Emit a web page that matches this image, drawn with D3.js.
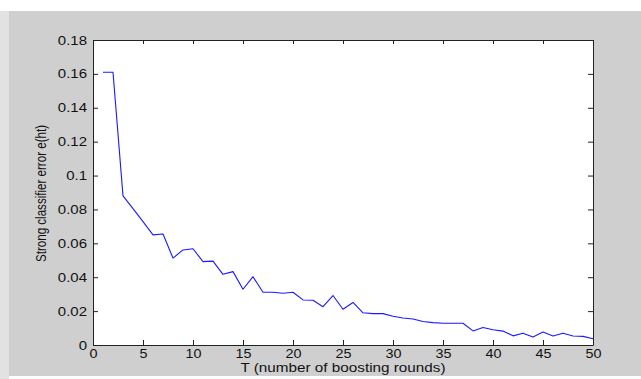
<!DOCTYPE html>
<html>
<head>
<meta charset="utf-8">
<script src="https://cdnjs.cloudflare.com/ajax/libs/d3/7.8.5/d3.min.js"></script>
<style>
  body { margin: 0; background: #fff; }
  svg text { font-family: "Liberation Sans", Arial, sans-serif; fill: #111; }
</style>
</head>
<body>
<div id="chart"></div>
<script>
// boosting rounds T and the strong classifier error
var rounds = d3.range(1, 51);
var errors = [0.161, 0.161, 0.088, 0.0805, 0.0728, 0.065, 0.0655, 0.0513, 0.0561, 0.0568,
              0.0492, 0.0495, 0.0417, 0.0433, 0.0329, 0.0403, 0.0311, 0.0311, 0.0305, 0.0311,
              0.0266, 0.0264, 0.0226, 0.0292, 0.0211, 0.0251, 0.019, 0.0185, 0.0185, 0.017,
              0.0159, 0.0153, 0.0139, 0.0132, 0.0128, 0.0128, 0.0128, 0.0083, 0.0103, 0.009,
              0.0082, 0.0054, 0.0069, 0.0047, 0.0077, 0.0053, 0.0069, 0.0053, 0.0051, 0.0037];
var xTicks = [0, 5, 10, 15, 20, 25, 30, 35, 40, 45, 50];
var yTicks = [0, 0.02, 0.04, 0.06, 0.08, 0.1, 0.12, 0.14, 0.16, 0.18];
var xLabel = "T (number of boosting rounds)";
var yLabel = "Strong classifier error e(ht)";

var W = 641, H = 379;
var margin = {left: 93, right: 48, top: 40, bottom: 34};
var width = W - margin.left - margin.right,
    height = H - margin.top - margin.bottom;
var stretch = 1.2; // source screenshot is a bit wider than tall

var svg = d3.select("#chart").append("svg")
    .attr("width", W)
    .attr("height", H);

// figure background
svg.append("rect").attr("x", 0).attr("y", 0).attr("width", W).attr("height", H).attr("fill", "#ffffff");
svg.append("rect").attr("x", 0).attr("y", 11).attr("width", 9).attr("height", 368).attr("fill", "#e2e2e2");
svg.append("rect").attr("x", 9).attr("y", 11).attr("width", W - 9).attr("height", 365).attr("fill", "#cfcfcf");

var g = svg.append("g").attr("transform", "translate(" + margin.left + "," + margin.top + ")");

g.append("rect").attr("width", width).attr("height", height).attr("fill", "#fff");

var x = d3.scaleLinear().domain([0, 50]).range([0, width]);
var y = d3.scaleLinear().domain([0, 0.18]).range([height, 0]);

// inward ticks on all four sides (matlab box on)
var xAxis = g.append("g").attr("transform", "translate(0," + height + ")")
    .call(d3.axisBottom(x).tickValues(xTicks).tickSizeInner(-5).tickSizeOuter(0).tickPadding(4).tickFormat(d3.format("d")));
var yAxis = g.append("g")
    .call(d3.axisLeft(y).tickValues(yTicks).tickSizeInner(-5).tickSizeOuter(0).tickPadding(6).tickFormat(function(d) { return d === 0 ? "0" : d3.format("")(+d.toFixed(2)); }));
g.append("g")
    .call(d3.axisTop(x).tickValues(xTicks).tickSizeInner(-4).tickSizeOuter(0).tickFormat(""));
g.append("g").attr("transform", "translate(" + width + ",0)")
    .call(d3.axisRight(y).tickValues(yTicks).tickSizeInner(-5).tickSizeOuter(0).tickFormat(""));

g.selectAll(".domain").attr("stroke", "#222");
g.selectAll(".tick line").attr("stroke", "#222");

xAxis.selectAll("text")
    .attr("font-size", 12)
    .attr("transform", "scale(" + stretch + ",1)");
yAxis.selectAll("text")
    .attr("font-size", 12.5)
    .attr("x", -6 / stretch)
    .attr("transform", "scale(" + stretch + ",1)");

// error curve
var line = d3.line()
    .x(function(d, i) { return x(rounds[i]); })
    .y(function(d) { return y(d); });

g.append("path")
    .datum(errors)
    .attr("fill", "none")
    .attr("stroke", "#1a1aff")
    .attr("stroke-width", 1.1)
    .attr("stroke-linejoin", "round")
    .attr("d", line);

// axis labels
svg.append("text")
    .attr("x", margin.left + width / 2)
    .attr("y", 372)
    .attr("text-anchor", "middle")
    .attr("font-size", 12.5)
    .attr("textLength", 205)
    .attr("lengthAdjust", "spacingAndGlyphs")
    .text(xLabel);

svg.append("text")
    .attr("transform", "translate(45.5," + (margin.top + height / 2 + 1) + ") rotate(-90) scale(1," + stretch + ")")
    .attr("text-anchor", "middle")
    .attr("font-size", 12)
    .attr("textLength", 137)
    .attr("lengthAdjust", "spacingAndGlyphs")
    .text(yLabel);
</script>
</body>
</html>
